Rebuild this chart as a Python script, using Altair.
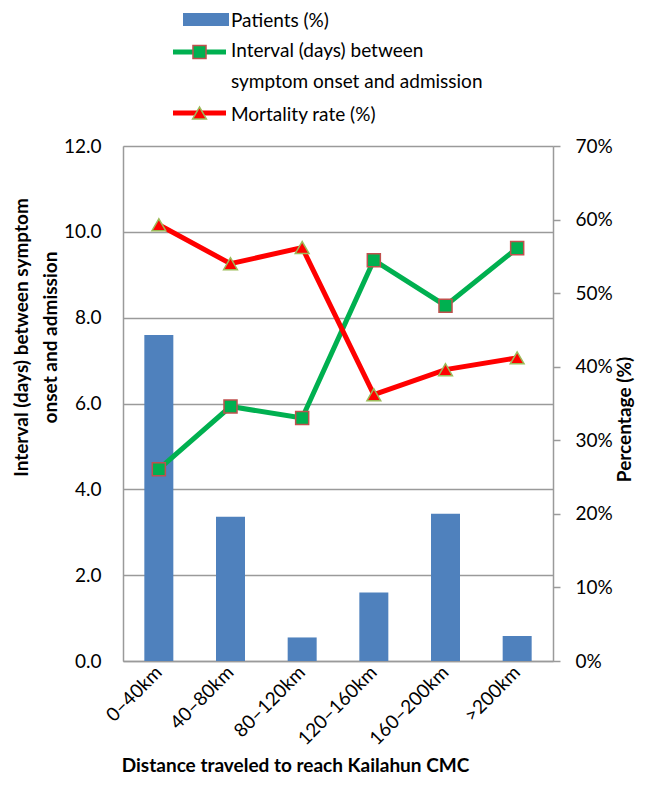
import altair as alt
import pandas as pd

categories = ["0–40km", "40–80km", "80–120km", "120–160km", "160–200km", ">200km"]
patients_pct = [44.3, 19.6, 3.2, 9.3, 20.0, 3.4]
interval_days = [4.47, 5.93, 5.66, 9.34, 8.28, 9.62]
mortality_pct = [59.3, 54.0, 56.2, 36.2, 39.6, 41.2]

left_ticks = [0, 2, 4, 6, 8, 10, 12]
right_ticks = [0, 10, 20, 30, 40, 50, 60, 70]
legend_labels = ["Patients (%)", "Interval (days) between", "symptom onset and admission", "Mortality rate (%)"]

df = pd.DataFrame({
    "cat": categories,
    "patients": patients_pct,
    "interval": interval_days,
    "mortality": mortality_pct,
})

FONT = "Lato"
GRAY = "#9a9a9a"
BLUE = "#4F81BD"
GREEN = "#00B050"
RED = "#FF0000"
SQ_STROKE = "#C0504D"
TRI_STROKE = "#9BBB59"

x_enc = alt.X(
    "cat:N",
    sort=categories,
    scale=alt.Scale(paddingInner=0, paddingOuter=0),
    axis=alt.Axis(
        title="Distance traveled to reach Kailahun CMC",
        labelAngle=-45, labelAlign="right", labelBaseline="middle",
        labelPadding=8, ticks=False, domainColor=GRAY, domainWidth=1.5,
        labelFont=FONT, labelFontSize=19, labelColor="#000",
        titleFont=FONT, titleFontSize=19, titleFontWeight="bold", titleColor="#000",
        titleX=172, titleY=104, titleBaseline="middle", titleAlign="center",
    ),
)

bars = alt.Chart(df).mark_bar(size=29, color=BLUE).encode(
    x=x_enc,
    y=alt.Y(
        "patients:Q",
        scale=alt.Scale(domain=[0, 70]),
        axis=alt.Axis(
            orient="right", values=right_ticks, labelExpr="datum.value + '%'",
            grid=False, ticks=True, tickSize=7, tickColor=GRAY, tickWidth=1.5,
            domainColor=GRAY, domainWidth=1.5, labelPadding=15,
            labelFont=FONT, labelFontSize=19, labelColor="#000",
            title="Percentage (%)", titleFont=FONT, titleFontSize=19,
            titleFontWeight="bold", titleColor="#000", titleAngle=270,
            titleX=71, titleY=273, titleBaseline="middle", titleAlign="center",
        ),
    ),
)

interval_line = alt.Chart(df).mark_line(color=GREEN, strokeWidth=5).encode(
    x=x_enc,
    y=alt.Y(
        "interval:Q",
        scale=alt.Scale(domain=[0, 12]),
        axis=alt.Axis(
            orient="left", values=left_ticks, format=".1f",
            grid=True, gridColor=GRAY, gridWidth=1.5, ticks=False,
            domainColor=GRAY, domainWidth=1.5, labelPadding=22,
            labelFont=FONT, labelFontSize=19, labelColor="#000",
            title=["Interval (days) between symptom", "onset and admission"],
            titleFont=FONT, titleFontSize=19, titleFontWeight="bold", titleColor="#000",
            titleAngle=270, titleX=-111, titleY=191, titleBaseline="top",
            titleAlign="center", titleLineHeight=29,
        ),
    ),
)
interval_pts = alt.Chart(df).mark_point(
    shape="square", filled=True, fill=GREEN, stroke=SQ_STROKE, strokeWidth=1.5,
    size=170, opacity=1,
).encode(x=x_enc, y=alt.Y("interval:Q", scale=alt.Scale(domain=[0, 12]), axis=None))

mort_line = alt.Chart(df).mark_line(color=RED, strokeWidth=5).encode(
    x=x_enc,
    y=alt.Y("mortality:Q", scale=alt.Scale(domain=[0, 70]), axis=None),
)
mort_pts = alt.Chart(df).mark_point(
    shape="triangle-up", filled=True, fill=RED, stroke=TRI_STROKE, strokeWidth=1.5,
    size=190, opacity=1,
).encode(x=x_enc, y=alt.Y("mortality:Q", scale=alt.Scale(domain=[0, 70]), axis=None))

leg = pd.DataFrame({"k": [0]})
leg_rect = alt.Chart(leg).mark_rect(color=BLUE).encode(
    x=alt.value(60), x2=alt.value(106), y=alt.value(-133), y2=alt.value(-120))
leg_g_line = alt.Chart(leg).mark_rule(color=GREEN, strokeWidth=5).encode(
    x=alt.value(50), x2=alt.value(103), y=alt.value(-94))
leg_g_pt = alt.Chart(leg).mark_point(
    shape="square", filled=True, fill=GREEN, stroke=SQ_STROKE, strokeWidth=1.5,
    size=170, opacity=1).encode(x=alt.value(76.5), y=alt.value(-94))
leg_r_line = alt.Chart(leg).mark_rule(color=RED, strokeWidth=5).encode(
    x=alt.value(50), x2=alt.value(103), y=alt.value(-33))
leg_r_pt = alt.Chart(leg).mark_point(
    shape="triangle-up", filled=True, fill=RED, stroke=TRI_STROKE, strokeWidth=1.5,
    size=190, opacity=1).encode(x=alt.value(76.5), y=alt.value(-33))

def leg_text(label, y):
    return alt.Chart(leg).mark_text(
        align="left", baseline="middle", font=FONT, fontSize=19, color="#000"
    ).encode(x=alt.value(108), y=alt.value(y), text=alt.value(label))

texts = [
    leg_text(legend_labels[0], -125),
    leg_text(legend_labels[1], -95),
    leg_text(legend_labels[2], -64),
    leg_text(legend_labels[3], -31),
]

chart = alt.layer(
    bars, interval_line, interval_pts, mort_line, mort_pts,
    leg_rect, leg_g_line, leg_g_pt, leg_r_line, leg_r_pt, *texts,
).resolve_scale(y="independent").properties(
    width=430, height=515,
    autosize=alt.AutoSizeParams(type="none"),
    padding={"left": 115, "top": 138, "right": 89, "bottom": 127},
).configure_view(stroke=None).configure(background="white")

chart.save("out.html", embed_options={"renderer": "svg", "actions": False})
